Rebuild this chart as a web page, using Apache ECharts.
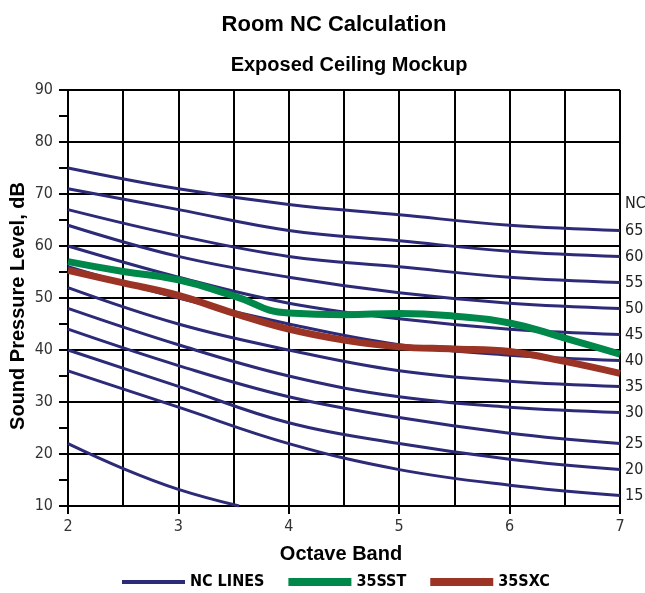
<!DOCTYPE html>
<html><head><meta charset="utf-8">
<script src="https://cdn.jsdelivr.net/npm/echarts@6/dist/echarts.min.js"></script>
<style>html,body{margin:0;padding:0;background:#fff}#c{width:645px;height:593px}</style>
</head><body><div id="c"></div>
<script>
// Octave band positions for NC curves
var bandX = [2, 3, 4, 5, 6, 7];
// NC curve values (dB) at each band
var ncLevels = [65, 60, 55, 50, 45, 40, 35, 30, 25, 20, 15];
var nc65 = [75, 71, 68, 66, 64, 63];
var nc60 = [71, 67, 63, 61, 59, 58];
var nc55 = [67, 62, 58, 56, 54, 53];
var nc50 = [64, 58, 54, 51, 49, 48];
var nc45 = [60, 54, 49, 46, 44, 43];
var nc40 = [56, 50, 45, 41, 39, 38];
var nc35 = [52, 45, 40, 36, 34, 33];
var nc30 = [48, 41, 35, 31, 29, 28];
var nc25 = [44, 37, 31, 27, 24, 22];
var nc20 = [40, 33, 26, 22, 19, 17];
var nc15 = [36, 29, 22, 17, 14, 12];
// lowest extra line
var lowX = [2, 2.5, 3, 3.55];
var lowY = [22, 17.2, 13.2, 10];
// measured spectra
var measX = [2, 2.5, 3, 3.5, 4, 4.5, 5, 5.5, 6, 6.5, 7];
var sst = [57, 55.1, 53.5, 50.4, 47.1, 46.8, 47, 46.5, 45.2, 42.3, 39.2];
var sxc = [55.3, 52.9, 50.5, 47.1, 44, 41.9, 40.6, 40.2, 39.7, 37.8, 35.5];
var xTicks = [2, 3, 4, 5, 6, 7];
var yTicks = [10, 20, 30, 40, 50, 60, 70, 80, 90];
var legendNames = ['NC LINES', '35SST', '35SXC'];

var NAVY = '#2d2a78', GREEN = '#00884a', RED = '#9b3424';
var COND = '"Liberation Sans Narrow","DejaVu Sans Condensed","Roboto Condensed","Liberation Sans",sans-serif';
var BOLD = '"Liberation Sans",Arial,sans-serif';

function pairs(xs, ys) { return xs.map(function (x, i) { return [x, ys[i]]; }); }

var ncArrays = [nc65, nc60, nc55, nc50, nc45, nc40, nc35, nc30, nc25, nc20, nc15];
var series = [];
ncArrays.forEach(function (arr, i) {
  var lvl = ncLevels[i];
  var endLabel = {
    show: true, distance: 5, color: '#222', fontFamily: COND, fontSize: 16,
    formatter: String(lvl)
  };
  if (i === 0) {
    endLabel.formatter = 'NC\n' + lvl;
    endLabel.lineHeight = 27;
    endLabel.offset = [0, -13.5];
  }
  series.push({
    name: legendNames[0], type: 'line', data: pairs(bandX, arr), smooth: 0.4,
    symbol: 'none', lineStyle: { color: NAVY, width: 3 }, itemStyle: { color: NAVY },
    endLabel: endLabel, silent: true, z: 3
  });
});
series.push({
  name: legendNames[0], type: 'line', data: pairs(lowX, lowY), smooth: 0.4,
  symbol: 'none', lineStyle: { color: NAVY, width: 3 }, itemStyle: { color: NAVY }, z: 3
});
series.push({
  name: legendNames[1], type: 'line', data: pairs(measX, sst), smooth: 0.5,
  symbol: 'none', lineStyle: { color: GREEN, width: 7 }, itemStyle: { color: GREEN }, z: 4
});
series.push({
  name: legendNames[2], type: 'line', data: pairs(measX, sxc), smooth: 0.4,
  symbol: 'none', lineStyle: { color: RED, width: 7 }, itemStyle: { color: RED }, z: 5
});

var chart = echarts.init(document.getElementById('c'));
chart.setOption({
  animation: false,
  backgroundColor: '#fff',
  title: [
    { text: 'Room NC Calculation', left: 329, textAlign: 'center', top: 9,
      textStyle: { fontFamily: BOLD, fontWeight: 'bold', fontSize: 22, color: '#000' } },
    { text: 'Exposed Ceiling Mockup', left: 344, textAlign: 'center', top: 50,
      textStyle: { fontFamily: BOLD, fontWeight: 'bold', fontSize: 20, color: '#000' } }
  ],
  legend: {
    data: [
      { name: legendNames[0], icon: 'path://M0,0H63V4H0Z', itemStyle: { color: NAVY } },
      { name: legendNames[1], icon: 'path://M0,0H63V8H0Z', itemStyle: { color: GREEN } },
      { name: legendNames[2], icon: 'path://M0,0H63V8H0Z', itemStyle: { color: RED } }
    ],
    top: 569, left: 117,
    itemWidth: 63, itemHeight: 14, itemGap: 24,
    textStyle: { fontFamily: COND, fontWeight: 'bold', fontSize: 16, color: '#000' }
  },
  grid: { left: 68, right: 25, top: 90, bottom: 87, containLabel: false, outerBoundsMode: 'none' },
  xAxis: {
    type: 'value', min: xTicks[0], max: xTicks[xTicks.length - 1], interval: 1,
    name: 'Octave Band', nameLocation: 'middle', nameGap: 38,
    nameTextStyle: { fontFamily: BOLD, fontWeight: 'bold', fontSize: 20, color: '#000', padding: [0, 6, 0, 0] },
    axisLine: { lineStyle: { color: '#000', width: 2 } },
    axisTick: { show: true, length: 8, lineStyle: { color: '#000', width: 2 } },
    axisLabel: { margin: 13, fontFamily: COND, fontSize: 16, color: '#333' },
    splitLine: { show: true, lineStyle: { color: '#000', width: 2 } },
    minorTick: { show: false, splitNumber: 2 },
    minorSplitLine: { show: true, lineStyle: { color: '#000', width: 2 } }
  },
  yAxis: {
    type: 'value', min: yTicks[0], max: yTicks[yTicks.length - 1], interval: 10,
    name: 'Sound Pressure Level, dB', nameLocation: 'middle', nameGap: 40, nameMoveOverlap: false,
    nameTextStyle: { fontFamily: BOLD, fontWeight: 'bold', fontSize: 20, color: '#000', padding: [0, 16, 0, 0] },
    axisLine: { show: true, lineStyle: { color: '#000', width: 2 } },
    axisTick: { show: true, length: 9, lineStyle: { color: '#000', width: 2 } },
    minorTick: { show: true, splitNumber: 2, length: 9, lineStyle: { color: '#000', width: 2 } },
    axisLabel: { margin: 15, fontFamily: COND, fontSize: 16, color: '#333' },
    splitLine: { show: true, lineStyle: { color: '#000', width: 2 } }
  },
  series: series
});
</script></body></html>
